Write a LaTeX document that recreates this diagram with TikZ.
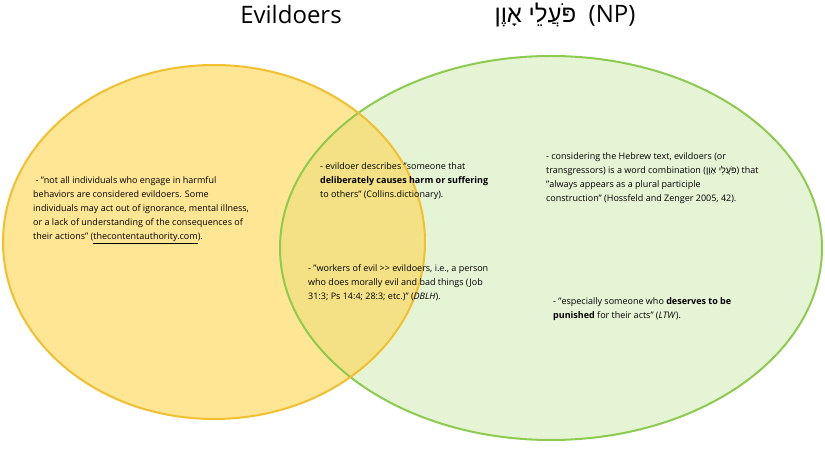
\documentclass[tikz,border=0pt]{standalone}
\usepackage{fontspec}
\setmainfont{Open Sans}[Ligatures=NoCommon]
\newfontfamily\hebfont[Script=Hebrew]{Liberation Sans}
\TeXXeTstate=1
\usetikzlibrary{positioning}
\definecolor{evilfill}{HTML}{FFD54F}
\definecolor{evilline}{HTML}{F0C030}
\definecolor{npfill}{HTML}{E6F4D6}
\definecolor{npline}{HTML}{8CCB4E}
\newcommand{\qq}{\symbol{34}}
\begin{document}
\begin{tikzpicture}[x=1pt,y=-1pt,
    settext/.style={align=left,font=\fontsize{9}{14.2}\selectfont,inner sep=0pt,anchor=north west},
    settitle/.style={font=\fontsize{24}{28}\selectfont}
    ]
  \useasboundingbox (0,0) rectangle (825,449);
  % sets
  \fill[npfill] (551,248) ellipse[x radius=271,y radius=192];
  \fill[evilfill,fill opacity=0.6] (214,242) ellipse[x radius=211,y radius=177];
  \draw[npline,line width=2pt] (551,248) ellipse[x radius=271,y radius=192];
  \draw[evilline,line width=2pt] (214,242) ellipse[x radius=211,y radius=177];
  % titles
  \node[settitle] (evil) at (291,15) {Evildoers};
  \node[settitle] (np) at (565,15) {{\hebfont\beginR פֹּעֲלֵי אָוֶן\endR}\ \ (NP)};
  % texts
  \node[settext] (left) at (33,176) {\ - \qq not all individuals who engage in harmful\\
    behaviors are considered evildoers. Some\\
    individuals may act out of ignorance, mental illness,\\
    or a lack of understanding of the consequences of\\
    their actions\qq{} (\underline{thecontentauthority.com}).};
  \node[settext] (mid) at (320,162) {- evildoer describes \qq someone that\\
    \textbf{deliberately causes harm or suffering}\\
    to others\qq{} (Collins.dictionary).};
  \node[settext] (work) at (308,264) {- \qq workers of evil {>}{>} evildoers, i.e., a person\\
    who does morally evil and bad things (Job\\
    31:3; Ps 14:4; 28:3; etc.)\qq{} (\textit{DBLH}).};
  \node[settext] (heb) at (546,152) {- considering the Hebrew text, evildoers (or\\
    transgressors) is a word combination ({\hebfont\beginR פֹּעֲלֵי אָוֶן\endR}) that\\
    \qq always appears as a plural participle\\
    construction\qq{} (Hossfeld and Zenger 2005, 42).};
  \node[settext] (ltw) at (553,297) {- \qq especially someone who \textbf{deserves to be}\\
    \textbf{punished} for their acts\qq{} (\textit{LTW}).};
\end{tikzpicture}
\end{document}
